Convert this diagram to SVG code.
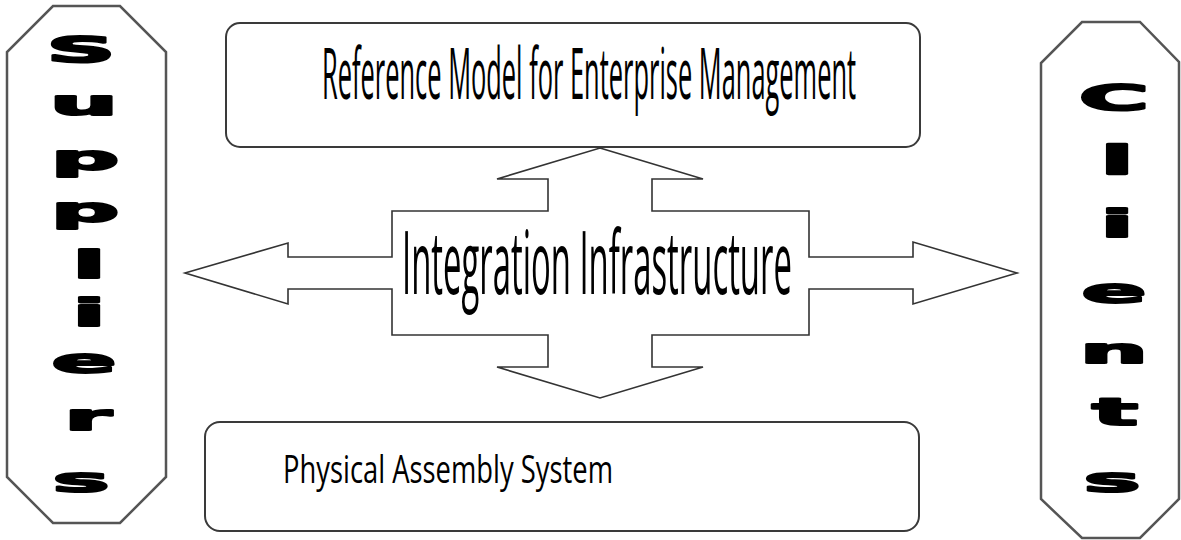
<svg xmlns="http://www.w3.org/2000/svg" width="1181" height="540" viewBox="0 0 1181 540">
  <style>
    .box { fill: #ffffff; stroke: #3a3a3a; stroke-width: 2; }
    .oct { fill: #ffffff; stroke: #555555; stroke-width: 2.5; }
    .hub { fill: #ffffff; stroke: #333333; stroke-width: 1.6; stroke-linejoin: miter; }
    .label { font-family: "Open Sans", "Noto Sans", "Liberation Sans", sans-serif; fill: #000000; }
    .stack { font-family: "DejaVu Sans", "Liberation Sans", sans-serif; font-weight: bold; font-size: 34px; fill: #000000; stroke: #000000; stroke-width: 2; stroke-linejoin: round; text-anchor: middle; }
  </style>
  <rect x="0" y="0" width="1181" height="540" fill="#ffffff"/>

  <!-- Suppliers column -->
  <g id="suppliers">
    <polygon class="oct" points="53,6 120,6 166,52 166,477 120,523 53,523 7,477 7,52"/>
    <text class="stack" transform="translate(81,62) scale(2.8,1.05)">S</text>
    <text class="stack" transform="translate(84,115) scale(2.8,1)">u</text>
    <text class="stack" transform="translate(85,170) scale(2.8,1)">p</text>
    <text class="stack" transform="translate(85,222) scale(2.8,1)">p</text>
    <text class="stack" transform="translate(89,278) scale(2.8,1.1)">l</text>
    <text class="stack" transform="translate(89,326) scale(2.8,1.1)">i</text>
    <text class="stack" transform="translate(84,373) scale(2.8,1)">e</text>
    <text class="stack" transform="translate(88,430) scale(2.8,1.05)">r</text>
    <text class="stack" transform="translate(81,492) scale(2.8,1)">s</text>
  </g>

  <!-- Clients column -->
  <g id="clients">
    <polygon class="oct" points="1082,22 1140,22 1179,62 1179,499 1140,538 1082,538 1041,499 1041,63"/>
    <text class="stack" transform="translate(1114,110) scale(2.8,1.05)">C</text>
    <text class="stack" transform="translate(1117,174) scale(2.8,1.15)">l</text>
    <text class="stack" transform="translate(1117,237) scale(2.8,1.1)">i</text>
    <text class="stack" transform="translate(1114,303) scale(2.8,1)">e</text>
    <text class="stack" transform="translate(1114,363) scale(2.8,1)">n</text>
    <text class="stack" transform="translate(1115,425) scale(2.8,1.1)">t</text>
    <text class="stack" transform="translate(1112,492) scale(2.8,1)">s</text>
  </g>

  <!-- Enterprise management layer (condensed label) -->
  <g id="reference-model">
    <rect class="box" x="226" y="23" width="694" height="124" rx="14" ry="14"/>
    <text class="label" transform="translate(322,99) scale(0.353,1)" font-size="72" textLength="1513" lengthAdjust="spacingAndGlyphs">Reference Model for Enterprise Management</text>
  </g>

  <!-- Physical layer -->
  <g id="physical-assembly">
    <rect class="box" x="205" y="422" width="714" height="109" rx="15" ry="15"/>
    <text class="label" transform="translate(283,483) scale(0.719,1)" font-size="38" textLength="459" lengthAdjust="spacingAndGlyphs">Physical Assembly System</text>
  </g>

  <!-- Central hub: four-way block arrow -->
  <g id="connectors">
    <path class="hub" d="M600,148 L703,179 L652,179 L652,211 L809,211 L809,257 L913,257 L913,242 L1017,273 L913,304 L913,289 L809,289 L809,335 L652,335 L652,367 L703,367 L600,398 L497,367 L548,367 L548,335 L392,335 L392,289 L288,289 L288,304 L185,273 L288,243 L288,257 L392,257 L392,211 L548,211 L548,179 L497,179 Z"/>
  </g>

  <g id="integration-infrastructure">
    <text class="label" transform="translate(402,294) scale(0.372,1)" font-size="88" textLength="1048" lengthAdjust="spacingAndGlyphs">Integration Infrastructure</text>
  </g>
</svg>
